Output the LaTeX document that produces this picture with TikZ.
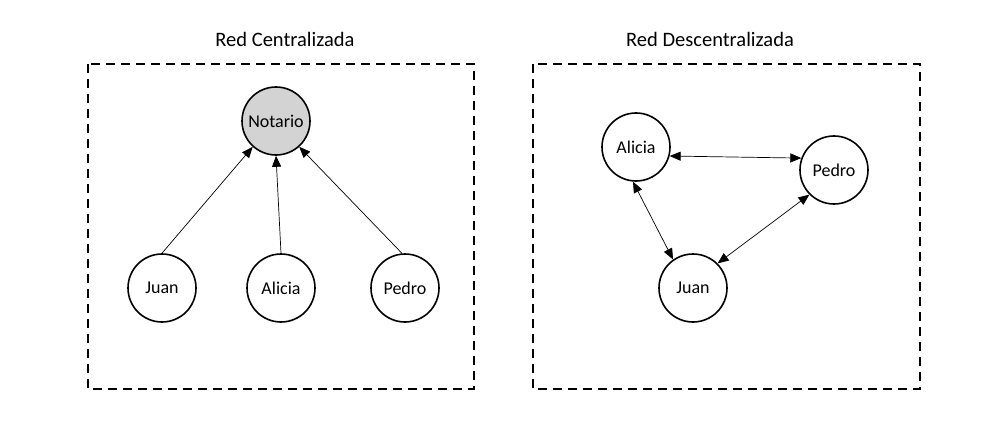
\documentclass[tikz,border=0pt]{standalone}
\usepackage{fontspec}
\setmainfont{Carlito}
\usetikzlibrary{arrows.meta}
\definecolor{grisnotario}{RGB}{211,211,211}
\tikzset{
	persona/.style={draw, circle, line width=1.6pt, minimum size=68pt, inner sep=0pt, font=\fontsize{18}{20}\selectfont},
	flecha/.style={line width=0.7pt, -{Triangle[length=11pt,width=9pt]}},
	flechadoble/.style={line width=0.7pt, {Triangle[length=11pt,width=9pt]}-{Triangle[length=11pt,width=9pt]}},
	marco/.style={draw, line width=1.6pt, dash pattern=on 9pt off 6pt}
}
\begin{document}
\begin{tikzpicture}[x=1pt,y=-1pt]
	\useasboundingbox (0,0) rectangle (988,433);
	% red centralizada
	\node[anchor=base, font=\fontsize{20.5}{22}\selectfont] (tituloC) at (285,47) {Red Centralizada};
	\draw[marco] (88,64) rectangle (474,389);
	\node[persona, fill=grisnotario] (notario) at (276,121) {Notario};
	\node[persona] (juan) at (162,288) {Juan};
	\node[persona] (alicia) at (281,288) {Alicia};
	\node[persona] (pedro) at (405,288) {Pedro};
	
	\draw[flecha] (juan.north) -- (notario.228);
	\draw[flecha] (alicia.north) -- (notario.270);
	\draw[flecha] (pedro.95) -- (notario.312);
	
	% red descentralizada
	\node[anchor=base, font=\fontsize{20.5}{22}\selectfont] (tituloD) at (710,47) {Red Descentralizada};
	\draw[marco] (533,64) rectangle (920,389);
	\node[persona] (aliciaD) at (636,147) {Alicia};
	\node[persona] (pedroD) at (834,170) {Pedro};
	\node[persona] (juanD) at (693,288) {Juan};
	
	\draw[flechadoble] (aliciaD.-15) -- (pedroD.160);
	\draw[flechadoble] (aliciaD.265) -- (juanD.125);
	\draw[flechadoble] (pedroD.225) -- (juanD.45);
\end{tikzpicture}
\end{document}
